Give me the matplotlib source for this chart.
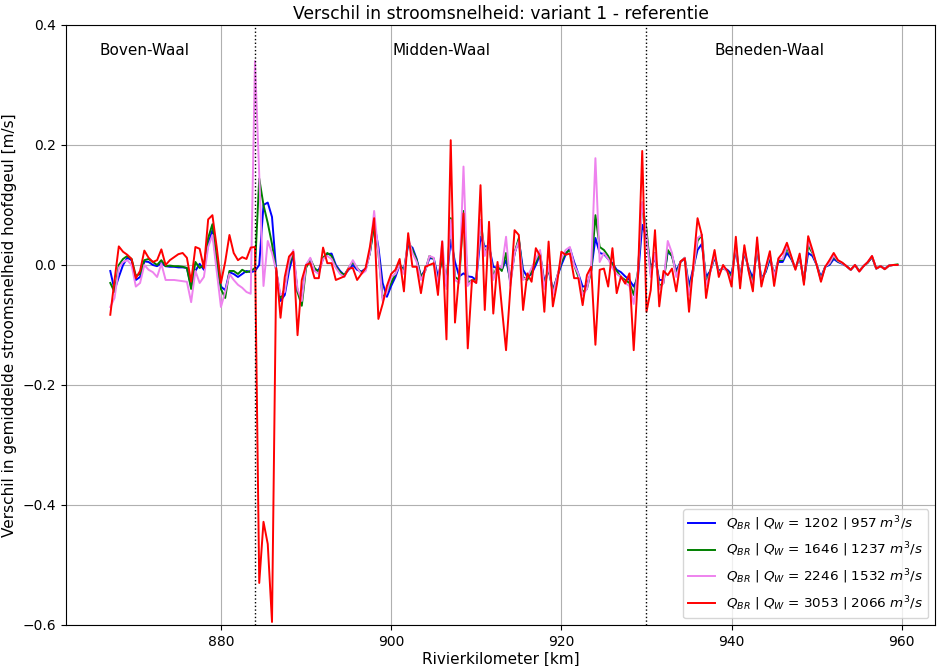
import numpy as np
import matplotlib
matplotlib.use("Agg")
import matplotlib.pyplot as plt

# river km, every 0.5 km
km = np.arange(867.0, 960.0, 0.5)

q_blue = [
    -0.010, -0.042, -0.020, 0.000, 0.012, 0.008, -0.025, -0.020, 0.006, 0.005,
    0.000, -0.002, 0.003, -0.002, -0.003, -0.003, -0.004, -0.004, -0.005, -0.036,
    -0.010, 0.002, -0.008, 0.035, 0.058, 0.000, -0.036, -0.042, -0.012, -0.015,
    -0.020, -0.015, -0.010, -0.012, -0.010, 0.000, 0.100, 0.104, 0.080, -0.010,
    -0.060, -0.050, -0.010, 0.017, -0.045, -0.056, 0.000, 0.008, -0.010, -0.008,
    0.010, 0.018, 0.019, 0.000, -0.010, -0.017, -0.008, 0.000, -0.008, -0.011,
    -0.006, 0.020, 0.070, 0.030, -0.030, -0.053, -0.035, -0.020, 0.000, -0.008,
    0.033, 0.029, 0.010, -0.019, -0.008, 0.011, 0.011, -0.019, 0.010, -0.028,
    0.042, 0.005, -0.019, -0.014, -0.019, -0.020, -0.025, 0.047, 0.031, 0.031,
    -0.003, -0.005, -0.008, 0.008, -0.025, 0.019, 0.042, -0.008, -0.020, -0.015,
    0.000, 0.017, -0.028, -0.008, -0.042, -0.020, 0.000, 0.017, 0.028, 0.005,
    -0.015, -0.036, -0.035, -0.010, 0.045, 0.020, 0.018, 0.010, 0.003, -0.008,
    -0.012, -0.019, -0.025, -0.036, -0.020, 0.067, 0.045, -0.005, 0.012, -0.025,
    -0.025, 0.022, 0.015, -0.010, 0.005, 0.010, -0.035, -0.005, 0.025, 0.035,
    -0.020, -0.010, 0.012, -0.010, -0.005, -0.008, -0.015, 0.025, -0.020, 0.020,
    -0.005, -0.022, 0.025, -0.022, -0.012, 0.010, -0.015, 0.005, 0.005, 0.020,
    0.010, -0.005, 0.012, -0.025, 0.020, 0.015, 0.000, -0.020, -0.003, 0.000,
    0.010, 0.005, 0.002, -0.002, -0.008, 0.000, -0.010, -0.002, 0.004, 0.013,
    -0.006, -0.002, -0.006, -0.001, 0.000, 0.000,
]

q_green = [
    -0.030, -0.045, 0.000, 0.010, 0.015, 0.010, -0.018, -0.015, 0.008, 0.010,
    0.005, 0.000, 0.008, -0.002, -0.001, -0.002, -0.002, -0.003, -0.005, -0.040,
    0.005, -0.005, 0.000, 0.045, 0.068, 0.010, -0.040, -0.055, -0.010, -0.010,
    -0.015, -0.008, -0.012, -0.010, -0.005, 0.144, 0.100, 0.070, 0.035, -0.010,
    -0.055, -0.040, 0.000, 0.020, -0.045, -0.068, -0.005, 0.010, -0.005, -0.012,
    0.012, 0.020, 0.015, -0.003, -0.012, -0.017, -0.005, 0.005, -0.005, -0.013,
    -0.008, 0.020, 0.065, 0.020, -0.055, -0.045, -0.030, -0.015, 0.002, -0.012,
    0.040, 0.025, 0.008, -0.020, -0.010, 0.015, 0.010, -0.030, 0.015, -0.035,
    0.078, -0.020, -0.025, 0.090, -0.030, -0.025, -0.025, 0.075, 0.020, 0.035,
    -0.020, 0.000, -0.010, 0.020, -0.030, 0.020, 0.045, -0.020, -0.025, -0.010,
    0.005, 0.020, -0.035, -0.005, -0.045, -0.020, 0.005, 0.020, 0.025, 0.000,
    -0.020, -0.045, -0.040, -0.010, 0.083, 0.030, 0.025, 0.015, 0.000, -0.010,
    -0.020, -0.025, -0.030, -0.050, -0.010, 0.100, 0.060, -0.015, 0.020, -0.035,
    -0.030, 0.025, 0.015, -0.015, 0.005, 0.012, -0.045, -0.010, 0.040, 0.050,
    -0.030, -0.010, 0.015, -0.012, -0.005, -0.010, -0.020, 0.032, -0.025, 0.025,
    -0.008, -0.030, 0.032, -0.028, -0.010, 0.015, -0.018, 0.008, 0.008, 0.028,
    0.012, -0.006, 0.014, -0.028, 0.032, 0.020, 0.000, -0.024, -0.003, 0.002,
    0.014, 0.006, 0.003, -0.002, -0.008, 0.000, -0.010, -0.002, 0.004, 0.014,
    -0.006, -0.002, -0.007, -0.001, 0.000, 0.001,
]

q_violet = [
    -0.070, -0.055, -0.005, 0.005, 0.008, 0.000, -0.036, -0.030, 0.000, -0.008,
    -0.012, -0.020, 0.002, -0.025, -0.025, -0.025, -0.026, -0.027, -0.028, -0.062,
    -0.010, -0.030, -0.020, 0.030, 0.050, -0.010, -0.070, -0.045, -0.015, -0.025,
    -0.033, -0.038, -0.045, -0.048, 0.340, 0.150, -0.035, 0.040, 0.020, -0.010,
    -0.050, -0.045, 0.005, 0.025, -0.040, -0.060, 0.000, 0.012, -0.010, -0.015,
    0.010, 0.015, 0.010, -0.005, -0.015, -0.020, -0.005, 0.008, -0.005, -0.015,
    -0.010, 0.020, 0.090, 0.020, -0.060, -0.045, -0.020, -0.015, 0.000, -0.015,
    0.045, 0.020, 0.005, -0.025, -0.010, 0.015, 0.012, -0.035, 0.040, -0.040,
    0.075, -0.025, -0.030, 0.164, -0.035, -0.025, -0.030, 0.075, 0.015, 0.040,
    -0.025, 0.000, -0.005, 0.047, -0.035, 0.020, 0.040, -0.025, -0.020, -0.005,
    0.010, 0.025, -0.040, 0.000, -0.050, -0.020, 0.010, 0.025, 0.030, 0.000,
    -0.015, -0.050, -0.040, -0.005, 0.178, 0.005, 0.020, 0.010, -0.005, -0.015,
    -0.020, -0.030, -0.035, -0.065, -0.010, 0.105, 0.050, -0.020, 0.020, -0.040,
    -0.030, 0.040, 0.020, -0.020, 0.005, 0.012, -0.050, -0.010, 0.045, 0.050,
    -0.035, -0.012, 0.018, -0.015, -0.003, -0.012, -0.025, 0.035, -0.028, 0.028,
    -0.010, -0.035, 0.036, -0.030, -0.008, 0.018, -0.020, 0.010, 0.010, 0.032,
    0.014, -0.007, 0.016, -0.030, 0.040, 0.022, 0.000, -0.026, -0.003, 0.003,
    0.016, 0.007, 0.003, -0.002, -0.008, 0.000, -0.011, -0.002, 0.005, 0.015,
    -0.006, -0.002, -0.007, -0.001, 0.000, 0.000,
]

q_red = [
    -0.083, -0.025, 0.031, 0.022, 0.017, 0.010, -0.022, -0.010, 0.024, 0.012,
    0.005, 0.008, 0.026, 0.000, 0.008, 0.013, 0.018, 0.020, 0.012, -0.028,
    0.030, 0.027, -0.005, 0.076, 0.083, 0.030, -0.030, 0.005, 0.050, 0.020,
    0.008, 0.013, 0.010, 0.029, 0.030, -0.530, -0.428, -0.465, -0.595, -0.005,
    -0.088, -0.020, 0.014, 0.022, -0.117, -0.025, 0.000, 0.003, -0.022, -0.022,
    0.029, 0.003, 0.003, -0.025, -0.022, -0.019, -0.006, -0.005, -0.025, -0.015,
    -0.005, 0.030, 0.078, -0.090, -0.065, -0.035, -0.015, -0.008, 0.010, -0.044,
    0.053, -0.003, -0.003, -0.047, -0.003, 0.000, 0.003, -0.050, 0.039, -0.124,
    0.208, -0.096, -0.014, 0.086, -0.139, -0.025, -0.030, 0.133, -0.075, 0.072,
    -0.081, 0.005, -0.070, -0.142, -0.040, 0.058, 0.050, -0.075, -0.014, -0.028,
    0.028, 0.015, -0.078, 0.039, -0.069, -0.030, 0.022, 0.017, 0.019, -0.022,
    -0.022, -0.067, -0.017, -0.003, -0.133, -0.008, -0.006, -0.036, 0.028, -0.047,
    -0.019, -0.031, -0.014, -0.142, -0.020, 0.190, -0.078, -0.042, 0.058, -0.069,
    -0.010, -0.017, -0.006, -0.044, 0.006, 0.011, -0.078, 0.000, 0.078, 0.050,
    -0.055, -0.010, 0.025, -0.020, 0.000, -0.010, -0.036, 0.047, -0.039, 0.033,
    -0.010, -0.044, 0.046, -0.036, -0.005, 0.023, -0.035, 0.011, 0.020, 0.037,
    0.015, -0.008, 0.019, -0.033, 0.048, 0.025, 0.000, -0.028, -0.003, 0.008,
    0.020, 0.008, 0.004, -0.002, -0.008, 0.000, -0.011, -0.002, 0.005, 0.015,
    -0.006, -0.002, -0.007, -0.001, 0.000, 0.000,
]

labels = [
    r'$Q_{BR}$ | $Q_W$ = 1202 | 957 $m^3/s$',
    r'$Q_{BR}$ | $Q_W$ = 1646 | 1237 $m^3/s$',
    r'$Q_{BR}$ | $Q_W$ = 2246 | 1532 $m^3/s$',
    r'$Q_{BR}$ | $Q_W$ = 3053 | 2066 $m^3/s$',
]
colors = ['blue', 'green', 'violet', 'red']

boundaries = [884, 930]
regions = ['Boven-Waal', 'Midden-Waal', 'Beneden-Waal']
region_x = [871.0, 905.9, 944.5]

fig = plt.figure(figsize=(9.38, 6.66), dpi=100)
ax = fig.add_axes([0.0704, 0.0616, 0.9264, 0.9009])

for q, c, lab in zip([q_blue, q_green, q_violet, q_red], colors, labels):
    ax.plot(km, q, color=c, lw=1.4, label=lab)

for b in boundaries:
    ax.axvline(b, color='black', ls=':', lw=1.0)

for name, xr in zip(regions, region_x):
    ax.text(xr, 0.357, name, ha='center', va='center', fontsize=11)

ax.set_xlim(861.8, 963.9)
ax.set_ylim(-0.6, 0.4)
ax.set_xticks([880, 900, 920, 940, 960])
ax.grid(True)
ax.set_title('Verschil in stroomsnelheid: variant 1 - referentie', fontsize=12.3, pad=4)
ax.set_xlabel('Rivierkilometer [km]', fontsize=11, labelpad=2)
ax.set_ylabel('Verschil in gemiddelde stroomsnelheid hoofdgeul [m/s]', fontsize=11)
ax.legend(loc='lower right', fontsize=9.7, labelspacing=0.6)

fig.savefig('out.png', dpi=100)
